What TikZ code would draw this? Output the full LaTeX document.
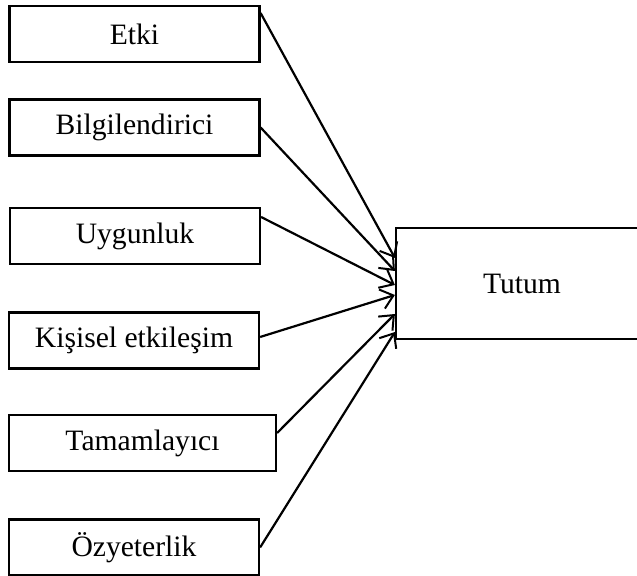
\documentclass[tikz,border=0pt]{standalone}
\usepackage{fontspec}
\setmainfont{Liberation Serif}
\usepackage{tikz}
\usetikzlibrary{arrows.meta,positioning}
\tikzset{
  factorbox/.style={draw=black, line width=1.1pt, minimum height=28pt,
    minimum width=#1, align=center, inner sep=2pt,
    font=\fontsize{14.8}{17}\selectfont, fill=white},
  factorbox/.default={125pt},
  barbarr/.style={-{Straight Barb[length=6pt,width=10pt,line width=1pt]},
    line width=1.1pt, color=black},
}
\begin{document}
\begin{tikzpicture}[x=0.5pt, y=-0.5pt,
  outbox/.style={draw=black, line width=1.1pt, minimum width=126pt,
    minimum height=55.5pt, font=\fontsize{14.8}{17}\selectfont},
]
  \useasboundingbox (0,0) rectangle (637,576);

  \node[factorbox] (etki) at (134.5,34) {Etki};
  \node[factorbox] (bilgi) at (134.5,127.5) {Bilgilendirici};
  \node[factorbox] (uygun) at (135,236) {Uygunluk};
  \node[factorbox] (kisisel) at (134,340.5) {Kişisel etkileşim};
  \node[factorbox=133.5pt] (tamam) at (142.5,443) {Tamamlayıcı};
  \node[factorbox] (ozyet) at (134,547.5) {Özyeterlik};

  \node[outbox] (tutum) at (522,283.5) {Tutum};

  \draw[barbarr] ([yshift=10.5pt]etki.east) -- ([yshift=12.75pt]tutum.west);
  \draw[barbarr] (bilgi.east) -- ([yshift=6.25pt]tutum.west);
  \draw[barbarr] ([yshift=9.5pt]uygun.east) -- ([yshift=-0.75pt]tutum.west);
  \draw[barbarr] ([yshift=1.75pt]kisisel.east) -- ([yshift=-5.75pt]tutum.west);
  \draw[barbarr] ([yshift=5pt]tamam.east) -- ([yshift=-15.25pt]tutum.west);
  \draw[barbarr] (ozyet.east) -- ([yshift=-24.25pt]tutum.west);
\end{tikzpicture}
\end{document}
